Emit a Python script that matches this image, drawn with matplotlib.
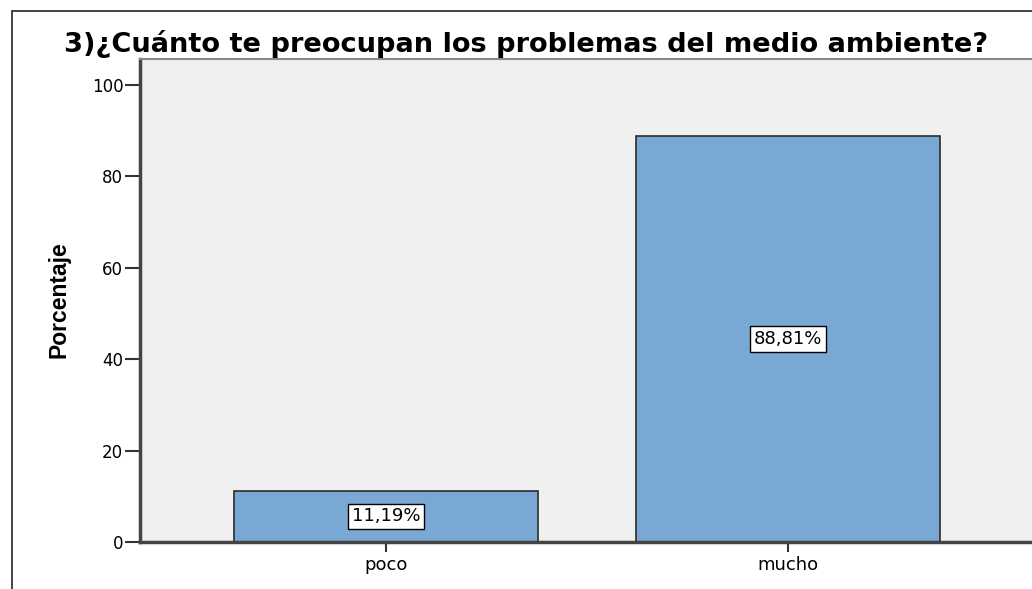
import matplotlib.pyplot as plt
import matplotlib.patches as mpatches

categories = ['poco', 'mucho']
percentages = [11.19, 88.81]
labels = ['11,19%', '88,81%']

plt.rcParams['font.family'] = ['DejaVu Sans']

fig = plt.figure(figsize=(10.32, 5.89), dpi=100)

# outer frame (SPSS-like)
fig.patches.append(mpatches.Rectangle((12 / 1032, -0.1), 1.2, (589 - 11) / 589 + 0.1,
                                      transform=fig.transFigure, fill=False,
                                      edgecolor='#222222', linewidth=1.2))

ax = fig.add_axes([140 / 1032, 47 / 589, 894 / 1032, 483 / 589])
ax.set_facecolor('#F0F0F0')

x = list(range(len(categories)))
ax.bar(x, percentages, width=0.754, color='#79A8D5', edgecolor='#2b2b2b', linewidth=1.2, zorder=2)

for xi, val, lab in zip(x, percentages, labels):
    ax.text(xi, val / 2, lab, ha='center', va='center', fontsize=13, zorder=3,
            bbox=dict(boxstyle='square,pad=0.2', facecolor='white', edgecolor='black', linewidth=1))

ax.set_xlim(-0.612, 1.612)
ax.set_ylim(0, 105.7)
ax.set_xticks(x)
ax.set_xticklabels(categories, fontsize=13)
ax.set_yticks([0, 20, 40, 60, 80, 100])
ax.tick_params(axis='y', length=11, width=1.5, color='#333333', labelsize=12, pad=1)
ax.tick_params(axis='x', length=7, width=1.5, color='#333333', pad=3)

for side in ['left', 'bottom']:
    ax.spines[side].set_linewidth(2.5)
    ax.spines[side].set_color('#444444')
ax.spines['top'].set_color('#888888')
ax.spines['top'].set_linewidth(1.5)
ax.spines['right'].set_visible(False)

fig.text(59 / 1032, 1 - 300 / 589, 'Porcentaje', rotation=90, ha='center', va='center',
         fontsize=16.5, fontweight='bold', family=['Liberation Sans', 'DejaVu Sans'])
fig.text(526 / 1032, 1 - 52 / 589, '3)¿Cuánto te preocupan los problemas del medio ambiente?',
         ha='center', va='baseline', fontsize=19.6, fontweight='bold')

plt.savefig('out.png', dpi=100)
